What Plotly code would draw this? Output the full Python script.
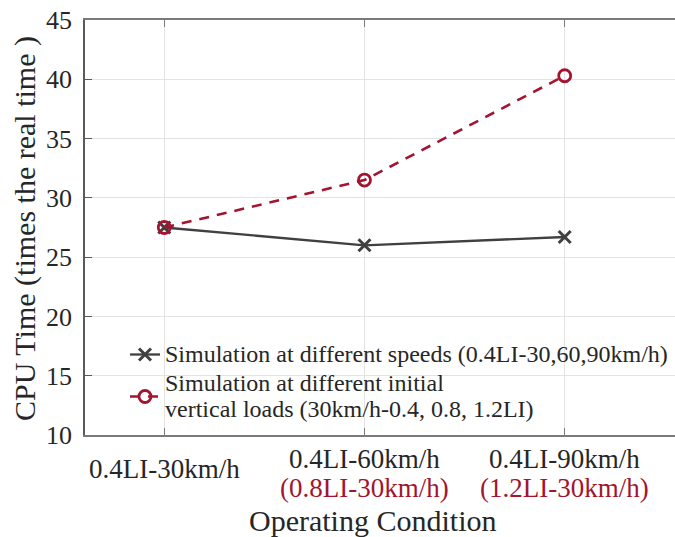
import plotly.graph_objects as go

# Operating conditions along the x axis
conditions = [1, 2, 3]
cond_labels = ["0.4LI-30km/h", "0.4LI-60km/h", "0.4LI-90km/h"]
alt_labels = ["", "(0.8LI-30km/h)", "(1.2LI-30km/h)"]

# CPU time, in multiples of real time
cpu_speeds = [27.5, 26.0, 26.7]
cpu_loads = [27.5, 31.5, 40.3]

y_ticks = [10, 15, 20, 25, 30, 35, 40, 45]

series_names = [
    "Simulation at different speeds (0.4LI-30,60,90km/h)",
    "Simulation at different initial<br>vertical loads (30km/h-0.4, 0.8, 1.2LI)",
]

DARK = "#404040"
RED = "#A2142F"
TEXT = "#262626"
FONT = "Liberation Serif"

W, H = 675, 537
L, R, T, B = 85, 0, 20, 102
plot_h = H - T - B


def py(pix):
    """Pixel row -> paper y."""
    return (H - B - pix) / plot_h


def px(pix):
    """Pixel column -> paper x."""
    return (pix - L) / (W - L - R)


def legend_label(s):
    # larger glyphs on a tighter line pitch
    return "<br>".join(f"<span style='font-size:24px'>{part}</span>"
                       for part in s.split("<br>"))


fig = go.Figure()
fig.add_trace(go.Scatter(
    x=conditions, y=cpu_speeds, mode="lines+markers",
    name=legend_label(series_names[0]),
    line=dict(color=DARK, width=2.3),
    marker=dict(symbol="x-thin-open", size=12, color=DARK,
                line=dict(color=DARK, width=3)),
))
fig.add_trace(go.Scatter(
    x=conditions, y=cpu_loads, mode="lines+markers",
    name=legend_label(series_names[1]),
    line=dict(color=RED, width=2.6, dash="10px,8px"),
    marker=dict(symbol="circle-open", size=12, color=RED,
                line=dict(color=RED, width=2.8)),
))

annotations = []
for c, lab, alt in zip(conditions, cond_labels, alt_labels):
    if alt:
        annotations.append(dict(x=c, xref="x", y=py(459), yref="paper", text=lab,
                                 showarrow=False, yanchor="middle",
                                 font=dict(family=FONT, size=27, color=TEXT)))
        annotations.append(dict(x=c, xref="x", y=py(488), yref="paper", text=alt,
                                 showarrow=False, yanchor="middle",
                                 font=dict(family=FONT, size=27, color=RED)))
    else:
        annotations.append(dict(x=c, xref="x", y=py(469), yref="paper", text=lab,
                                 showarrow=False, yanchor="middle",
                                 font=dict(family=FONT, size=27, color=TEXT)))

annotations.append(dict(x=px(372), xref="paper", y=py(520), yref="paper",
                        text="Operating Condition", showarrow=False,
                        yanchor="middle", xanchor="center",
                        font=dict(family=FONT, size=30, color=TEXT)))
annotations.append(dict(x=px(25), xref="paper", y=py(229), yref="paper",
                        text="CPU Time (times the real time )", showarrow=False,
                        textangle=-90, yanchor="middle", xanchor="center",
                        font=dict(family=FONT, size=30, color=TEXT)))

# white panel behind the legend (covers grid, stays under the data)
legend_box = dict(type="rect", xref="paper", yref="paper",
                  x0=px(100), x1=px(670), y0=py(413), y1=py(337),
                  fillcolor="white", line=dict(width=0), layer="between")

fig.update_layout(
    width=W, height=H,
    margin=dict(l=L, r=R, t=T, b=B),
    paper_bgcolor="white", plot_bgcolor="white",
    font=dict(family=FONT, color=TEXT),
    showlegend=True,
    legend=dict(x=px(125), y=py(335), xanchor="left", yanchor="top",
                bgcolor="rgba(0,0,0,0)", borderwidth=0,
                font=dict(family=FONT, size=20, color=TEXT),
                tracegroupgap=0, itemwidth=30),
    annotations=annotations,
    shapes=[legend_box],
)
fig.update_xaxes(
    range=[0.604, 3.551], tickvals=conditions, showticklabels=False,
    showgrid=True, gridcolor="#e3e3e3", gridwidth=1,
    showline=True, linecolor="#7a7a7a", linewidth=1.5,
    ticks="inside", ticklen=7, tickcolor="#7a7a7a", mirror="ticks",
    zeroline=False,
)
fig.update_yaxes(
    range=[10, 45], tickvals=y_ticks,
    showgrid=True, gridcolor="#e3e3e3", gridwidth=1,
    showline=True, linecolor="#5a5a5a", linewidth=1.5,
    ticks="inside", ticklen=7, tickcolor="#5a5a5a",
    tickfont=dict(family=FONT, size=26, color=TEXT),
    ticklabelstandoff=6,
    zeroline=False,
)

fig.write_html("out.html")
